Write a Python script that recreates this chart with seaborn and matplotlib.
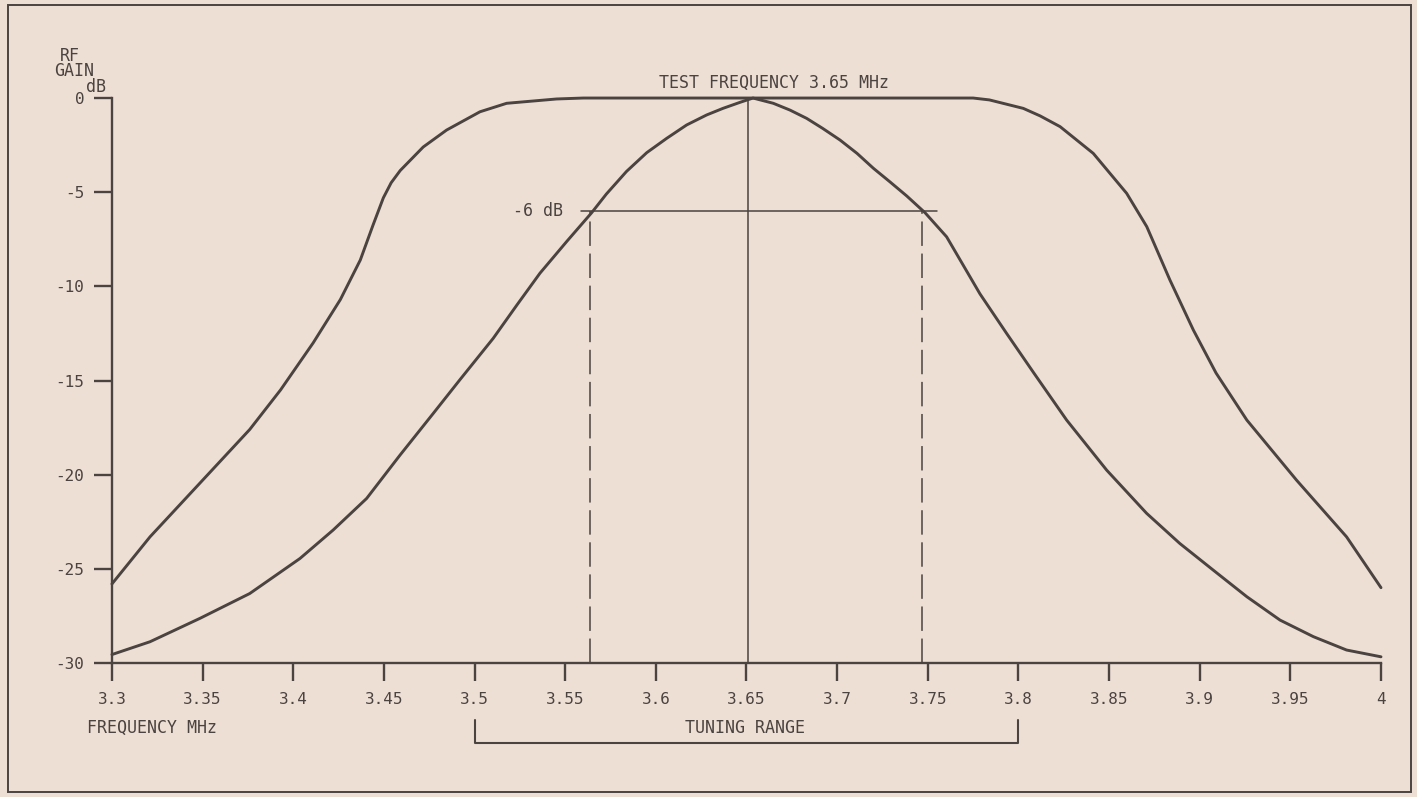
import seaborn as sns
import matplotlib.pyplot as plt
import pandas as pd

# RF gain of the wide (front end) and narrow (tuned) responses
freq_wide = [3.300, 3.321, 3.3485, 3.376, 3.393, 3.411, 3.426, 3.437, 3.444, 3.4497,
             3.454, 3.459, 3.4717, 3.4846, 3.503, 3.5177, 3.5453, 3.56, 3.775, 3.784,
             3.8027, 3.812, 3.823, 3.8413, 3.8597, 3.8708, 3.8836, 3.8965, 3.909, 3.926,
             3.9535, 3.981, 4.000]
gain_wide = [-25.8, -23.3, -20.45, -17.6, -15.5, -13.0, -10.7, -8.6, -6.75, -5.3,
             -4.5, -3.85, -2.6, -1.7, -0.73, -0.28, -0.05, 0.0, 0.0, -0.1,
             -0.55, -0.95, -1.52, -2.94, -5.06, -6.83, -9.67, -12.32, -14.6, -17.1,
             -20.3, -23.3, -26.0]

freq_narrow = [3.300, 3.321, 3.3485, 3.376, 3.4037, 3.422, 3.4405, 3.4589, 3.4772, 3.492,
               3.5103, 3.5233, 3.5361, 3.551, 3.5646, 3.5727, 3.5838, 3.595, 3.606, 3.617,
               3.628, 3.637, 3.6464, 3.6536, 3.6648, 3.674, 3.6832, 3.692, 3.7016, 3.711,
               3.72, 3.729, 3.7384, 3.7485, 3.7604, 3.7788, 3.7935, 3.8085,
               3.8266, 3.8487, 3.8707, 3.889, 3.9075, 3.926, 3.9443, 3.9627, 3.981, 4.000]
gain_narrow = [-29.55, -28.87, -27.63, -26.31, -24.45, -22.94, -21.26, -18.96, -16.75, -14.95,
               -12.76, -11.0, -9.3, -7.6, -6.09, -5.1, -3.9, -2.9, -2.14, -1.43,
               -0.9, -0.55, -0.23, 0.0, -0.28, -0.64, -1.08, -1.61, -2.23, -2.94,
               -3.73, -4.44, -5.2, -6.09, -7.37, -10.4, -12.5, -14.6,
               -17.1, -19.76, -22.05, -23.65, -25.07, -26.48, -27.72, -28.6, -29.31, -29.67]

x_ticks = [3.3, 3.35, 3.4, 3.45, 3.5, 3.55, 3.6, 3.65, 3.7, 3.75, 3.8, 3.85, 3.9, 3.95, 4.0]
x_tick_labels = ["3.3", "3.35", "3.4", "3.45", "3.5", "3.55", "3.6", "3.65", "3.7",
                 "3.75", "3.8", "3.85", "3.9", "3.95", "4"]
y_ticks = [0, -5, -10, -15, -20, -25, -30]
y_tick_labels = ["0", "-5", "-10", "-15", "-20", "-25", "-30"]

test_freq = 3.651
level_6db = -6.0
edges_6db = [3.5637, 3.7468]
tuning_range = [3.5, 3.8]

ink = "#4b4340"
paper = "#eedfd5"

sns.set_style("ticks")
plt.rcParams["font.family"] = ["DejaVu Sans Mono", "DejaVu Sans"]

df = pd.concat([
    pd.DataFrame({"freq": freq_wide, "gain": gain_wide, "curve": "wide"}),
    pd.DataFrame({"freq": freq_narrow, "gain": gain_narrow, "curve": "narrow"}),
])

fig = plt.figure(figsize=(14.17, 7.97), dpi=100, facecolor=paper)
ax = fig.add_axes([0.0790, 0.1681, 0.8956, 0.7089])
ax.set_facecolor(paper)

sns.lineplot(data=df, x="freq", y="gain", hue="curve", palette=[ink, ink],
             linewidth=2.1, legend=False, ax=ax, estimator=None,
             solid_joinstyle="round", solid_capstyle="round")

# reference lines
ax.plot([test_freq, test_freq], [-30, 0], color=ink, lw=1.1)
ax.plot([3.559, 3.755], [level_6db, level_6db], color=ink, lw=1.1)
for e in edges_6db:
    ax.plot([e, e], [-30, level_6db], color=ink, lw=1.1, linestyle=(0, (16, 5)))
for ln in ax.lines:
    ln.set_clip_on(False)

ax.set_xlim(3.3, 4.0)
ax.set_ylim(-30, 0)
ax.set_xticks(x_ticks, x_tick_labels)
ax.set_yticks(y_ticks, y_tick_labels)
ax.set_xlabel("")
ax.set_ylabel("")
sns.despine(ax=ax)
for s in ["left", "bottom"]:
    ax.spines[s].set_color(ink)
    ax.spines[s].set_linewidth(1.7)
ax.tick_params(axis="both", colors=ink, length=13, width=1.7, labelsize=11.5)
ax.tick_params(axis="x", pad=8)
ax.tick_params(axis="y", pad=7)

txt = dict(color=ink, fontsize=12, clip_on=False)
ax.text(3.665, 0.3, "TEST FREQUENCY 3.65 MHz", ha="center", va="bottom", **txt)
ax.text(3.549, level_6db, "-6 dB", ha="right", va="center", **txt)
ax.text(3.2768, 2.25, "RF", ha="center", va="center", **txt)
ax.text(3.2793, 1.42, "GAIN", ha="center", va="center", **txt)
ax.text(3.2912, 0.57, "dB", ha="center", va="center", **txt)
ax.text(3.2862, -33.45, "FREQUENCY MHz", ha="left", va="center", **txt)
ax.text(3.649, -33.45, "TUNING RANGE", ha="center", va="center", **txt)

# tuning range bracket
ax.plot([tuning_range[0], tuning_range[0], tuning_range[1], tuning_range[1]],
        [-33.0, -34.25, -34.25, -33.0], color=ink, lw=1.5, clip_on=False)

# page frame
fig.patches.append(plt.Rectangle((0.0057, 0.0063), 0.9901, 0.9874, transform=fig.transFigure,
                                 fill=False, edgecolor=ink, lw=1.4))

fig.savefig("out.png", dpi=100, facecolor=paper)
